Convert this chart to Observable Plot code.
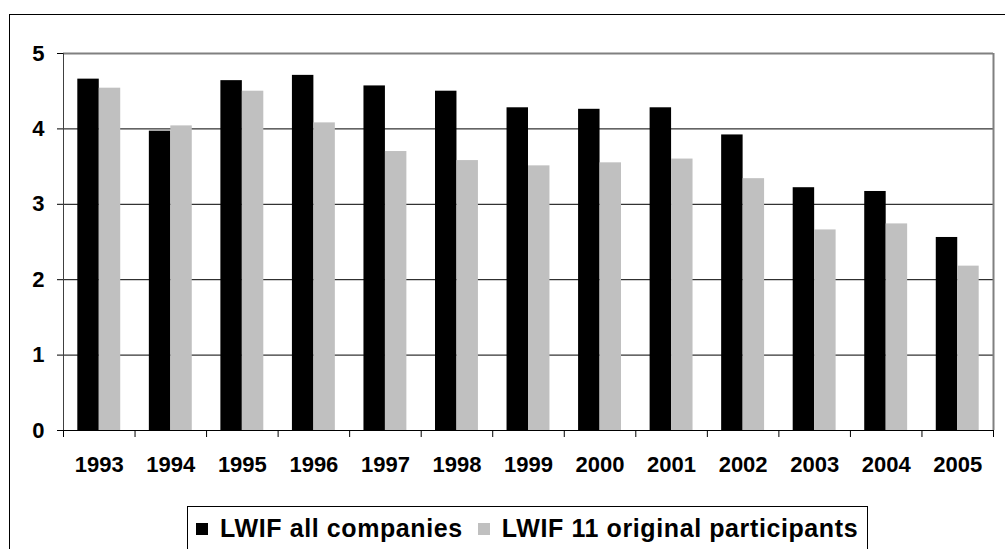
<!DOCTYPE html>
<html>
<head>
<meta charset="utf-8">
<script src="https://cdn.jsdelivr.net/npm/d3@7"></script>
<script src="https://cdn.jsdelivr.net/npm/@observablehq/plot@0.6"></script>
<style>
  html, body { margin: 0; padding: 0; background: #fff; overflow: hidden; width: 1005px; height: 549px; }
  #outer { position: absolute; left: 9px; top: 14px; width: 1100px; height: 700px; border: 1px solid #000; box-sizing: border-box; }
  #chart { position: absolute; left: 0; top: 0; }
  #legend { position: absolute; left: 187px; top: 506px; width: 681px; height: 80px; border: 1px solid #000; box-sizing: border-box; background: #fff;
            font-family: "Liberation Sans", Arial, sans-serif; font-weight: bold; font-size: 25px; letter-spacing: 0.6px; color: #000; }
  #legend .row { display: flex; align-items: center; height: 43px; padding-left: 8px; }
  #legend .sw { width: 12px; height: 12px; margin-right: 12px; flex: none; }
  #legend .item { display: flex; align-items: center; margin-right: 15px; white-space: nowrap; }
</style>
</head>
<body>
<div id="outer"></div>
<div id="chart"></div>
<div id="legend"></div>
<script>
const years = [1993, 1994, 1995, 1996, 1997, 1998, 1999, 2000, 2001, 2002, 2003, 2004, 2005];
const allCompanies = [4.66, 3.97, 4.64, 4.71, 4.57, 4.50, 4.28, 4.26, 4.28, 3.92, 3.22, 3.17, 2.56];
const originalParticipants = [4.54, 4.04, 4.50, 4.08, 3.70, 3.58, 3.51, 3.55, 3.60, 3.34, 2.66, 2.74, 2.18];
const seriesNames = ["LWIF all companies", "LWIF 11 original participants"];
const seriesColors = ["#000000", "#c0c0c0"];
const yTicks = [0, 1, 2, 3, 4, 5];

const barFrac = 0.3;
const rows = [];
years.forEach((yr, i) => {
  rows.push({year: yr, series: seriesNames[0], value: allCompanies[i], x1: yr - barFrac, x2: yr});
  rows.push({year: yr, series: seriesNames[1], value: originalParticipants[i], x1: yr, x2: yr + barFrac});
});
const boundaries = years.map(y => y - 0.5).concat([years[years.length - 1] + 0.5]);
const font = "'Liberation Sans', Arial, sans-serif";

const chart = Plot.plot({
  width: 1005,
  height: 500,
  marginLeft: 63,
  marginRight: 12,
  marginTop: 53,
  marginBottom: 70,
  style: {fontFamily: font, background: "transparent", overflow: "visible"},
  x: {type: "linear", domain: [years[0] - 0.5, years[years.length - 1] + 0.5]},
  y: {domain: [0, 5]},
  color: {domain: seriesNames, range: seriesColors},
  marks: [
    Plot.ruleY(yTicks.filter(t => t > 0 && t < 5), {stroke: "#000", strokeWidth: 1}),
    Plot.rectY(rows, {x1: "x1", x2: "x2", y: "value", fill: "series"}),
    Plot.ruleY([5], {stroke: "#808080", strokeWidth: 2}),
    Plot.ruleX([years[years.length - 1] + 0.5], {stroke: "#808080", strokeWidth: 2}),
    Plot.ruleX([years[0] - 0.5], {stroke: "#404040", strokeWidth: 1}),
    Plot.ruleY([0], {stroke: "#000", strokeWidth: 1}),
    Plot.axisY({ticks: yTicks, tickSize: 6, tickPadding: 13, fontSize: 22, fontWeight: "bold", fill: "#000", stroke: "#000", label: null, tickFormat: d => String(d)}),
    Plot.axisX({ticks: boundaries, tickSize: 7, tickFormat: () => "", label: null, stroke: "#000"}),
    Plot.axisX({ticks: years, tickSize: 0, tickPadding: 26, fontSize: 22, fontWeight: "bold", fill: "#000", label: null, tickFormat: d => String(d)})
  ]
});
document.getElementById("chart").appendChild(chart);

const legend = document.getElementById("legend");
const row = document.createElement("div");
row.className = "row";
seriesNames.forEach((name, i) => {
  const item = document.createElement("div");
  item.className = "item";
  const sw = document.createElement("span");
  sw.className = "sw";
  sw.style.background = seriesColors[i];
  const tx = document.createElement("span");
  tx.textContent = name;
  item.appendChild(sw);
  item.appendChild(tx);
  row.appendChild(item);
});
legend.appendChild(row);
</script>
</body>
</html>
